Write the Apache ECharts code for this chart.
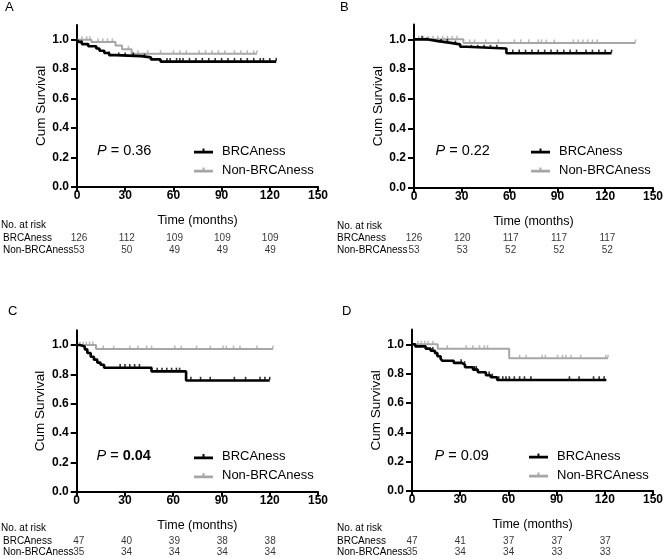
<!DOCTYPE html>
<html>
<head>
<meta charset="utf-8">
<script src="https://cdn.jsdelivr.net/npm/echarts@6/dist/echarts.min.js"></script>
<style>
  html, body { margin: 0; padding: 0; background: #fff; }
  #main { width: 666px; height: 559px; }
</style>
</head>
<body>
<div id="main"></div>
<script>
    // axis ticks, groups, risk table times
    var xTicks = [0, 30, 60, 90, 120, 150];
    var yTicks = [0, 0.2, 0.4, 0.6, 0.8, 1.0];
    var riskTimes = [0, 30, 60, 90, 120];
    var groups = ['BRCAness', 'Non-BRCAness'];

    // A: KM steps [month, survival], censor times, numbers at risk
    var aBrca = [[0, 1], [1, 0.985], [3, 0.97], [7, 0.955], [12, 0.94], [14, 0.925], [17, 0.91], [20, 0.895], [24, 0.888], [40, 0.88], [46, 0.866], [52, 0.851], [124, 0.851]];
    var aNon = [[0, 1], [9, 0.985], [24, 0.96], [28, 0.935], [34, 0.905], [112, 0.905]];
    var aBrcaCens = [3, 20, 26, 30, 35, 42, 56, 58, 62, 64, 66, 70, 74, 78, 82, 86, 90, 94, 98, 102, 106, 110, 114, 116, 120, 124];
    var aNonCens = [3, 6, 8, 13, 16, 19, 22, 32, 38, 44, 52, 60, 64, 68, 76, 80, 84, 88, 92, 98, 102, 106, 110, 112];
    var aRiskBrca = [126, 112, 109, 109, 109];
    var aRiskNon = [53, 50, 49, 49, 49];

    // B
    var bBrca = [[0, 1], [8, 0.988], [15, 0.978], [22, 0.966], [29, 0.95], [33, 0.938], [58, 0.906], [124, 0.906]];
    var bNon = [[0, 1], [31, 0.976], [139, 0.976]];
    var bBrcaCens = [5, 8, 17, 21, 26, 36, 40, 44, 48, 52, 62, 66, 70, 74, 78, 82, 86, 90, 94, 98, 102, 108, 112, 116, 120, 124];
    var bNonCens = [3, 6, 9, 12, 15, 18, 21, 24, 27, 35, 38, 45, 53, 63, 67, 72, 78, 80, 83, 88, 100, 103, 106, 109, 112, 115, 139];
    var bRiskBrca = [126, 120, 117, 117, 117];
    var bRiskNon = [53, 53, 52, 52, 52];

    // C
    var cBrca = [[0, 1], [2, 0.99], [5, 0.97], [6.6, 0.945], [8.7, 0.92], [10.7, 0.9], [12.8, 0.88], [14.8, 0.865], [17, 0.845], [46.5, 0.82], [68, 0.758], [120, 0.758]];
    var cNon = [[0, 1], [12, 0.972], [122, 0.972]];
    var cBrcaCens = [27, 30, 33, 36, 39, 50, 53, 56, 59, 62, 64, 71, 77, 83, 98, 105, 114, 117, 120];
    var cNonCens = [2, 4, 6, 8, 10, 16.5, 23, 33, 38, 43.5, 46.6, 61, 65, 74.5, 83, 91, 93, 97.5, 101.5, 112, 122];
    var cRiskBrca = [47, 40, 39, 38, 38];
    var cRiskNon = [35, 34, 34, 34, 34];

    // D
    var dBrca = [[0, 1], [2, 0.986], [8.5, 0.97], [11.6, 0.956], [14.3, 0.94], [15.8, 0.918], [17.8, 0.902], [18.8, 0.888], [26, 0.873], [31, 0.86], [33, 0.843], [38, 0.827], [41, 0.809], [46, 0.789], [49, 0.775], [53, 0.757], [121, 0.757]];
    var dNon = [[0, 1], [16, 0.97], [60.5, 0.905], [122, 0.905]];
    var dBrcaCens = [13, 30.6, 32.7, 38.9, 40, 48, 50, 54, 56.5, 58.5, 60.6, 63.7, 67, 70, 74, 98, 104, 113, 116.5, 119.6];
    var dNonCens = [3.7, 5.8, 7.9, 10, 13, 22, 33.7, 37.9, 42, 45, 47, 67, 71, 81, 83, 90.6, 93.7, 95.8, 99, 105, 120.6, 122];
    var dRiskBrca = [47, 41, 37, 37, 37];
    var dRiskNon = [35, 34, 34, 33, 33];

    var pValues = ['0.36', '0.22', '0.04', '0.09'];

    var FONT = '"Liberation Sans", Arial, sans-serif';
    var BLACK = '#000';
    var GREY = '#a6a6a6';

    // layout of each panel (pixels)
    var panels = [
        {letter: 'A', lx: 5, ly: 8, grid: {left: 77, top: 25, width: 241, height: 161.7}, riskTop: 232.5, headY: 226, textX: 1, legX: 194, legY: 151, pX: 97, pY: 151.5,
            brca: aBrca, non: aNon, brcaCens: aBrcaCens, nonCens: aNonCens, riskBrca: aRiskBrca, riskNon: aRiskNon, p: pValues[0], bold: false},
        {letter: 'B', lx: 340, ly: 8, grid: {left: 414, top: 24.5, width: 241.7, height: 163.2}, riskTop: 232.6, headY: 227.5, textX: 337, legX: 531, legY: 151, pX: 435.5, pY: 151,
            brca: bBrca, non: bNon, brcaCens: bBrcaCens, nonCens: bNonCens, riskBrca: bRiskBrca, riskNon: bRiskNon, p: pValues[1], bold: false},
        {letter: 'C', lx: 8, ly: 312, grid: {left: 76.7, top: 330.3, width: 241.3, height: 161.4}, riskTop: 535.3, headY: 529.3, textX: 1, legX: 194, legY: 456.7, pX: 96.5, pY: 456,
            brca: cBrca, non: cNon, brcaCens: cBrcaCens, nonCens: cNonCens, riskBrca: cRiskBrca, riskNon: cRiskNon, p: pValues[2], bold: true},
        {letter: 'D', lx: 342, ly: 312, grid: {left: 412, top: 329.6, width: 241.7, height: 161.4}, riskTop: 535.3, headY: 529.3, textX: 337, legX: 529, legY: 456, pX: 434.5, pY: 456,
            brca: dBrca, non: dNon, brcaCens: dBrcaCens, nonCens: dNonCens, riskBrca: dRiskBrca, riskNon: dRiskNon, p: pValues[3], bold: false}
    ];

    // survival value at time t, read from the step list
    function survAt(steps, t) {
        var s = steps[0][1];
        for (var i = 0; i < steps.length; i++) {
            if (steps[i][0] <= t) s = steps[i][1];
        }
        return s;
    }

    var grids = [], xAxes = [], yAxes = [], series = [], legends = [], graphics = [];
    var legendIcon = 'path://M0,5H20V8H0Z M9,2.5H11V5H9Z';

    panels.forEach(function (pn, k) {
        var gi = k * 2, ri = k * 2 + 1;
        grids.push(pn.grid);
        grids.push({left: pn.grid.left, width: pn.grid.width, top: pn.riskTop, height: 23});

        xAxes.push({
            gridIndex: gi, type: 'value', min: 0, max: 150, interval: 30,
            name: 'Time (months)', nameLocation: 'middle', nameGap: 27,
            nameTextStyle: {fontFamily: FONT, fontSize: 12.5, color: '#000'},
            axisLine: {onZero: false, lineStyle: {color: '#000', width: 2}},
            axisTick: {length: 5, lineStyle: {color: '#000', width: 2}},
            axisLabel: {fontFamily: FONT, fontSize: 12, fontWeight: 'bold', color: '#000', margin: 3},
            splitLine: {show: false}
        });
        xAxes.push({gridIndex: ri, type: 'value', min: 0, max: 150, show: false});

        yAxes.push({
            gridIndex: gi, type: 'value', min: 0, max: 1.1, interval: 0.2,
            name: 'Cum Survival', nameLocation: 'middle', nameGap: 29,
            nameTextStyle: {fontFamily: FONT, fontSize: 13.5, color: '#000'},
            axisLine: {show: true, onZero: false, lineStyle: {color: '#000', width: 2}},
            axisTick: {show: true, length: 6, customValues: yTicks, lineStyle: {color: '#000', width: 2}},
            axisLabel: {
                customValues: yTicks, fontFamily: FONT, fontSize: 12, fontWeight: 'bold', color: '#000', margin: 8,
                formatter: function (v) { return v.toFixed(1); }
            },
            splitLine: {show: false}
        });
        yAxes.push({
            gridIndex: ri, type: 'category', inverse: true, data: groups,
            axisLine: {show: false}, axisTick: {show: false}, splitLine: {show: false},
            axisLabel: {interval: 0, hideOverlap: false, align: 'left', margin: pn.grid.left - pn.textX, fontFamily: FONT, fontSize: 10, color: '#000'}
        });

        // curves
        series.push({
            name: groups[1], type: 'line', step: 'end', xAxisIndex: gi, yAxisIndex: gi,
            showSymbol: false, data: pn.non, z: 2,
            itemStyle: {color: GREY}, lineStyle: {color: GREY, width: 2}
        });
        series.push({
            name: groups[0], type: 'line', step: 'end', xAxisIndex: gi, yAxisIndex: gi,
            showSymbol: false, data: pn.brca, z: 3,
            itemStyle: {color: BLACK}, lineStyle: {color: BLACK, width: 2.6}
        });
        // censor ticks
        series.push({
            type: 'scatter', xAxisIndex: gi, yAxisIndex: gi, z: 2,
            symbol: 'rect', symbolSize: [1.5, 3], symbolOffset: [0, -2],
            itemStyle: {color: GREY},
            data: pn.nonCens.map(function (t) { return [t, survAt(pn.non, t)]; })
        });
        series.push({
            type: 'scatter', xAxisIndex: gi, yAxisIndex: gi, z: 3,
            symbol: 'rect', symbolSize: [1.6, 3], symbolOffset: [0, -2.2],
            itemStyle: {color: BLACK},
            data: pn.brcaCens.map(function (t) { return [t, survAt(pn.brca, t)]; })
        });

        // numbers at risk
        [pn.riskBrca, pn.riskNon].forEach(function (arr, g) {
            series.push({
                type: 'scatter', xAxisIndex: ri, yAxisIndex: ri,
                symbol: 'circle', symbolSize: 1, itemStyle: {color: 'transparent'},
                label: {
                    show: true, position: 'inside', fontFamily: FONT, fontSize: 10, color: '#000',
                    formatter: function (p) { return p.value[2]; }
                },
                data: riskTimes.map(function (t, i) { return [t, groups[g], arr[i]]; })
            });
        });

        legends.push({
            left: pn.legX, top: pn.legY - 7, orient: 'vertical', padding: 0, itemGap: 5,
            itemWidth: 19, itemHeight: 6, icon: legendIcon,
            textStyle: {fontFamily: FONT, fontSize: 13, color: '#000', lineHeight: 14, padding: [0, 0, 0, 4]},
            data: [
                {name: groups[0], itemStyle: {color: BLACK}},
                {name: groups[1], itemStyle: {color: GREY}}
            ]
        });

        graphics.push({
            type: 'text', left: pn.lx, top: pn.ly - 7,
            style: {text: pn.letter, fontFamily: FONT, fontSize: 13, fill: '#000'}
        });
        graphics.push({
            type: 'text', left: pn.textX, top: pn.headY - 6,
            style: {text: 'No. at risk', fontFamily: FONT, fontSize: 10, fill: '#000'}
        });
        graphics.push({
            type: 'text', left: pn.pX, top: pn.pY - 8,
            style: {
                text: '{i|P} = ' + (pn.bold ? '{b|' + pn.p + '}' : pn.p),
                fontFamily: FONT, fontSize: 14.5, fill: '#000',
                rich: {
                    i: {fontFamily: FONT, fontSize: 14.5, fontStyle: 'italic'},
                    b: {fontFamily: FONT, fontSize: 14.5, fontWeight: 'bold'}
                }
            }
        });
    });

    var myChart = echarts.init(document.getElementById('main'));
    var option = {
        animation: false,
        backgroundColor: '#fff',
        grid: grids,
        xAxis: xAxes,
        yAxis: yAxes,
        legend: legends,
        graphic: graphics,
        series: series
    };
    myChart.setOption(option);
</script>
</body>
</html>
